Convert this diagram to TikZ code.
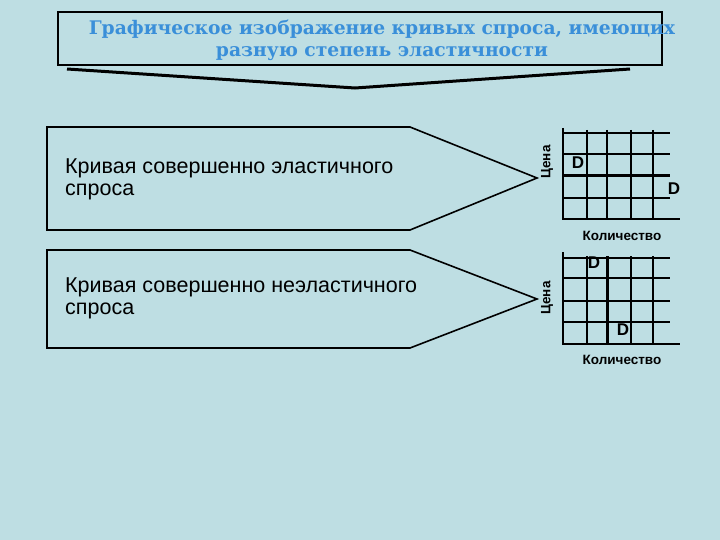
\documentclass[tikz,border=0pt]{standalone}
\usepackage{fontspec}
\setmainfont{Liberation Sans}
\newfontfamily\titlefont{DejaVu Serif}
\definecolor{bg}{HTML}{BEDEE3}
\definecolor{tblue}{HTML}{3A8FD9}
\begin{document}
\begin{tikzpicture}[x=1pt,y=-1pt,
  grid/.style={black,line width=1.2pt},
  axis/.style={black,line width=2pt},
  thick/.style={black,line width=3pt},
  lbl/.style={font=\bfseries\fontsize{17}{17}\selectfont,inner sep=0},
  small/.style={font=\bfseries\fontsize{13.5}{14}\selectfont,inner sep=0},
  panel/.style={draw=black,line width=1.6pt,fill=bg},
  ptext/.style={font=\fontsize{21.5}{22}\selectfont,align=left,anchor=west,inner sep=0}]
\fill[bg] (0,0) rectangle (720,540);
\useasboundingbox (0,0) rectangle (720,540);
% title
\node[draw=black,line width=2.5pt,minimum width=604,minimum height=53,inner sep=0] (title) at (360,38.5) {};
\node[font=\titlefont\bfseries\fontsize{18.7}{22}\selectfont,text=tblue,align=center,inner sep=0] (tt) at (382,40) {Графическое изображение кривых спроса, имеющих\\разную степень эластичности};
\coordinate (cl) at (67,69); \coordinate (cb) at (355,88); \coordinate (cr) at (630,69);
\draw[line width=3pt] (cl) -- (cb) -- (cr);
% panels
\draw[panel] (47,127) -- (410,127) -- (537,178) -- (410,230) -- (47,230) -- cycle;
\node[ptext] (t1) at (65,179) {Кривая совершенно эластичного\\спроса};
\draw[panel] (47,250) -- (410,250) -- (537,299) -- (410,348) -- (47,348) -- cycle;
\node[ptext] (t2) at (65,298) {Кривая совершенно неэластичного\\спроса};
% graph 1
\foreach \x in {587,607,631,653} \draw[grid] (\x,130) -- (\x,218);
\foreach \y in {133,154,198} \draw[grid] (563,\y) -- (670,\y);
\draw[thick] (563,176) -- (670,176);
\draw[axis] (563,128) -- (563,219) -- (680,219);
\node[lbl] (d1) at (578,163) {D};
\node[lbl] (d2) at (674,189) {D};
\node[small,rotate=90] (p1) at (547,162) {Цена};
\node[small] (q1) at (622,236) {Количество};
% graph 2
\foreach \x in {587,631,653} \draw[grid] (\x,256) -- (\x,344);
\foreach \y in {258,278,301,322} \draw[grid] (563,\y) -- (670,\y);
\draw[thick] (607,256) -- (607,344);
\draw[axis] (563,252) -- (563,344) -- (680,344);
\node[lbl] (d3) at (594,263) {D};
\node[lbl] (d4) at (623,330) {D};
\node[small,rotate=90] (p2) at (547,298) {Цена};
\node[small] (q2) at (622,360) {Количество};
\end{tikzpicture}
\end{document}
